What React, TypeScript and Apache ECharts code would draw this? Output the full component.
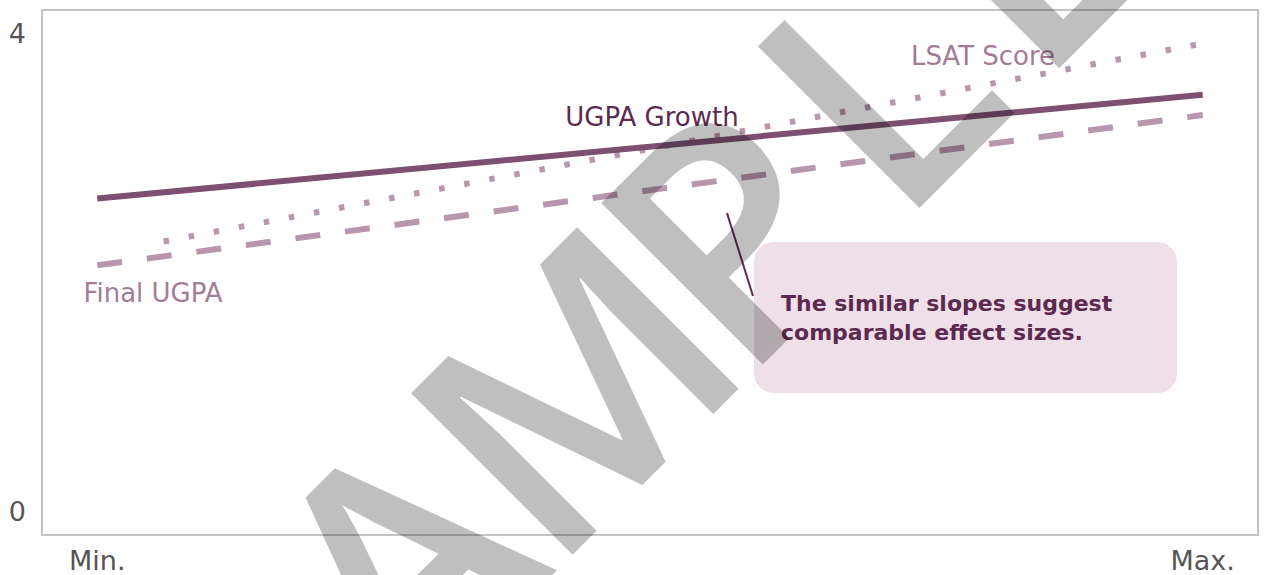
import React, { useEffect, useRef } from 'react';
import * as echarts from 'echarts';

// ---- data ----
const xTickValues = [0, 1];
const xTickLabels = ['Min.', 'Max.'];
const yTickValues = [0, 4];
const seriesNames = ['UGPA Growth', 'LSAT Score', 'Final UGPA'];
const ugpaGrowthX = [0, 1];
const ugpaGrowth = [2.62, 3.49];
const lsatX = [0.06, 1];
const lsatScore = [2.26, 3.92];
const finalUgpaX = [0, 1];
const finalUgpa = [2.06, 3.32];
const annotationLines = ['The similar slopes suggest', 'comparable effect sizes.'];
const watermarkText = 'SAMPLE';

// ---- layout (watermark letter offsets along its 45° baseline, px) ----
const WM_OFFSETS = [-370, -115, 130, 350, 560, 760];
const WM_ANCHOR_SUM = 952; // x + y of the letters' centre line

const pair = (xs: number[], ys: number[]) => xs.map((x, i) => [x, ys[i]]);

const FONT = '"DejaVu Sans", sans-serif';
const DARK = '#5c2a50';
const SOLID = '#7d4f70';
const LIGHT = '#b896ad';
const LABEL_LIGHT = '#a27c96';

function txt(text: string, x: number, y: number, size: number, color: string, align = 'center', weight = 'normal') {
  return {
    type: 'text',
    z: 50,
    style: {
      text,
      x,
      y,
      fill: color,
      fontSize: size,
      fontFamily: FONT,
      fontWeight: weight,
      textAlign: align,
      textVerticalAlign: 'middle',
      align,
      verticalAlign: 'middle',
    },
  };
}

function watermark() {
  return watermarkText.split('').map((ch, i) => {
    const p = WM_OFFSETS[i];
    const x = (WM_ANCHOR_SUM + Math.SQRT2 * p) / 2;
    const y = (WM_ANCHOR_SUM - Math.SQRT2 * p) / 2;
    return {
      type: 'text',
      z: 100,
      x,
      y,
      rotation: Math.PI / 4,
      style: {
        text: ch,
        x: 0,
        y: 0,
        fill: 'rgba(0,0,0,0.25)',
        fontSize: 320,
        fontFamily: '"Open Sans", sans-serif',
        fontWeight: 600,
        textAlign: 'center',
        textVerticalAlign: 'middle',
        align: 'center',
        verticalAlign: 'middle',
      },
    };
  });
}

export default function App() {
  const ref = useRef<HTMLDivElement>(null);
  useEffect(() => {
    document.body.style.margin = '0';
    const chart = echarts.init(ref.current!, null, { renderer: 'svg' });
    chart.setOption({
      animation: false,
      grid: {
        left: 42,
        right: 6,
        top: 10,
        bottom: 40,
        show: true,
        borderColor: '#c4c4c4',
        borderWidth: 2,
        backgroundColor: 'transparent',
      },
      xAxis: {
        type: 'value',
        min: -0.05,
        max: 1.05,
        axisLine: { show: false },
        axisTick: { show: false },
        splitLine: { show: false },
        axisLabel: {
          customValues: xTickValues,
          formatter: (v: number) => xTickLabels[xTickValues.indexOf(v)] ?? '',
          fontSize: 27,
          fontFamily: FONT,
          color: '#555555',
          margin: 12,
        },
      },
      yAxis: {
        type: 'value',
        min: -0.2,
        max: 4.2,
        axisLine: { show: false },
        axisTick: { show: false },
        splitLine: { show: false },
        axisLabel: {
          customValues: yTickValues,
          fontSize: 27,
          fontFamily: FONT,
          color: '#555555',
          margin: 16,
        },
      },
      series: [
        {
          name: seriesNames[0],
          type: 'line',
          data: pair(ugpaGrowthX, ugpaGrowth),
          showSymbol: false,
          symbol: 'none',
          lineStyle: { color: SOLID, width: 6, cap: 'butt' },
          z: 3,
        },
        {
          name: seriesNames[1],
          type: 'line',
          data: pair(lsatX, lsatScore),
          showSymbol: false,
          symbol: 'none',
          lineStyle: { color: LIGHT, width: 6, type: [5.5, 20], cap: 'butt' },
          z: 2,
        },
        {
          name: seriesNames[2],
          type: 'line',
          data: pair(finalUgpaX, finalUgpa),
          showSymbol: false,
          symbol: 'none',
          lineStyle: { color: LIGHT, width: 6, type: [25, 25], cap: 'butt' },
          z: 2,
        },
      ],
      graphic: [
        {
          type: 'rect',
          z: 40,
          shape: { x: 754, y: 242, width: 423, height: 151, r: 20 },
          style: { fill: '#efdfe8' },
        },
        {
          type: 'line',
          z: 41,
          shape: { x1: 727, y1: 213, x2: 753, y2: 296 },
          style: { stroke: DARK, lineWidth: 2 },
        },
        txt(annotationLines[0], 781, 303, 22, DARK, 'left', 'bold'),
        txt(annotationLines[1], 781, 332, 22, DARK, 'left', 'bold'),
        txt(seriesNames[0], 652, 117, 26, DARK),
        txt(seriesNames[1], 983, 56, 26, LABEL_LIGHT),
        txt(seriesNames[2], 153, 293, 26, LABEL_LIGHT),
        ...watermark(),
      ],
    });
    return () => chart.dispose();
  }, []);
  return <div ref={ref} style={{ width: 1264, height: 575 }} />;
}
